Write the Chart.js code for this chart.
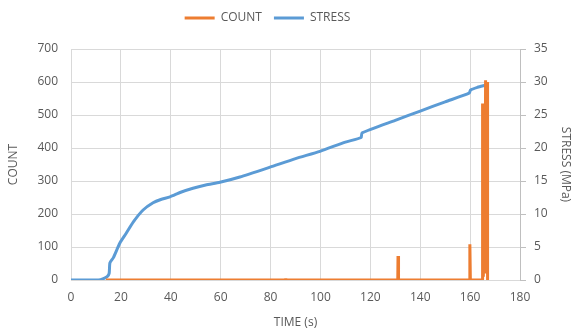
<!DOCTYPE html>
<html>
<head>
<meta charset="utf-8">
<script src="https://cdn.jsdelivr.net/npm/chart.js@4/dist/chart.umd.min.js"></script>
<style>
  html, body { margin: 0; padding: 0; background: #fff; }
  #wrap { width: 573px; height: 333px; }
</style>
</head>
<body>
<div id="wrap"><canvas id="acousticChart"></canvas></div>
<script>
// values
const stressTime = [0, 11, 13, 14.5, 15.3, 15.6, 17, 19.6, 22, 25, 28.9, 32.9, 36, 39.7, 44, 48.9, 54, 59.7, 67.7, 79.8, 90, 99.8, 110, 116.3, 116.7, 130, 140, 150, 159.6, 160.2, 163, 166];
const stressMPa = [0, 0, 0.2, 0.5, 1.0, 2.6, 3.4, 5.6, 7.0, 8.8, 10.6, 11.7, 12.2, 12.6, 13.3, 13.9, 14.4, 14.8, 15.6, 17.1, 18.4, 19.5, 20.9, 21.6, 22.3, 24.2, 25.6, 27.0, 28.3, 28.8, 29.2, 29.5];

const countTime = [14, 86, 86.1, 86.2, 131, 131.1, 131.3, 159.8, 159.9, 160.1, 164.9, 165.0, 165.3, 165.6, 165.9, 166.2, 166.5, 166.8, 167.0];
const counts = [0, 0, 5, 0, 0, 73, 0, 0, 108, 0, 0, 535, 10, 535, 20, 605, 30, 600, 0];

const timeTicks = [0, 20, 40, 60, 80, 100, 120, 140, 160, 180];

const toPoints = (xs, ys) => xs.map((x, i) => ({ x: x, y: ys[i] }));

const txt = '#595959';
const grid = '#d9d9d9';
const font = { family: 'Open Sans', size: 12 };

// legend sits a bit left of centre and takes a fixed height, like the Excel original
const legendTweak = {
  id: 'legendTweak',
  beforeInit(chart) {
    const lg = chart.legend;
    const fit = lg.fit;
    lg.fit = function () { fit.call(this); this.height = 49; };
  },
  afterLayout(chart) {
    chart.legend.left -= 19;
    chart.legend.right -= 19;
  }
};

const ctx = document.getElementById('acousticChart').getContext('2d');

const acousticChart = new Chart(ctx, {
  type: 'line',
  data: {
    datasets: [{
      label: 'COUNT',
      data: toPoints(countTime, counts),
      borderColor: '#ED7D31',
      backgroundColor: '#ED7D31',
      borderWidth: 3,
      pointRadius: 0,
      tension: 0,
      yAxisID: 'y'
    }, {
      label: 'STRESS',
      data: toPoints(stressTime, stressMPa),
      borderColor: '#5B9BD5',
      backgroundColor: '#5B9BD5',
      borderWidth: 3,
      pointRadius: 0,
      tension: 0.2,
      yAxisID: 'y1'
    }]
  },
  plugins: [legendTweak],
  options: {
    responsive: true,
    maintainAspectRatio: false,
    animation: false,
    layout: { padding: 0 },
    plugins: {
      legend: {
        position: 'top',
        labels: {
          color: txt,
          font: font,
          boxWidth: 30,
          boxHeight: 3,
          padding: 12,
          generateLabels: chart =>
            Chart.defaults.plugins.legend.labels.generateLabels(chart)
              .map(l => Object.assign(l, { lineWidth: 0, fillStyle: l.strokeStyle }))
        }
      },
      tooltip: { enabled: false }
    },
    scales: {
      x: {
        type: 'linear',
        min: 0,
        max: 180,
        afterBuildTicks: s => { s.ticks = timeTicks.map(v => ({ value: v })); },
        ticks: { color: txt, font: font, padding: 10 },
        grid: { color: grid, drawTicks: false },
        border: { color: grid },
        title: { display: true, text: 'TIME (s)', color: txt, font: font, padding: { top: 0, bottom: 3 } },
        afterFit: s => { s.height = 53; }
      },
      y: {
        position: 'left',
        min: 0,
        max: 700,
        ticks: { stepSize: 100, color: txt, font: font, padding: 13 },
        grid: { color: grid, drawTicks: false },
        border: { display: false },
        title: { display: true, text: 'COUNT', color: txt, font: font, padding: { top: 6, bottom: 0 } },
        afterFit: s => { s.width = 71; }
      },
      y1: {
        position: 'right',
        min: 0,
        max: 35,
        ticks: { stepSize: 5, color: txt, font: font, padding: 8 },
        grid: { drawOnChartArea: false, color: '#bfbfbf', tickLength: 6 },
        border: { color: '#bfbfbf' },
        title: { display: true, text: 'STRESS (MPa)', color: txt, font: font, padding: { top: 0, bottom: 0 } },
        afterFit: s => { s.width = 53; }
      }
    }
  }
});
</script>
</body>
</html>
